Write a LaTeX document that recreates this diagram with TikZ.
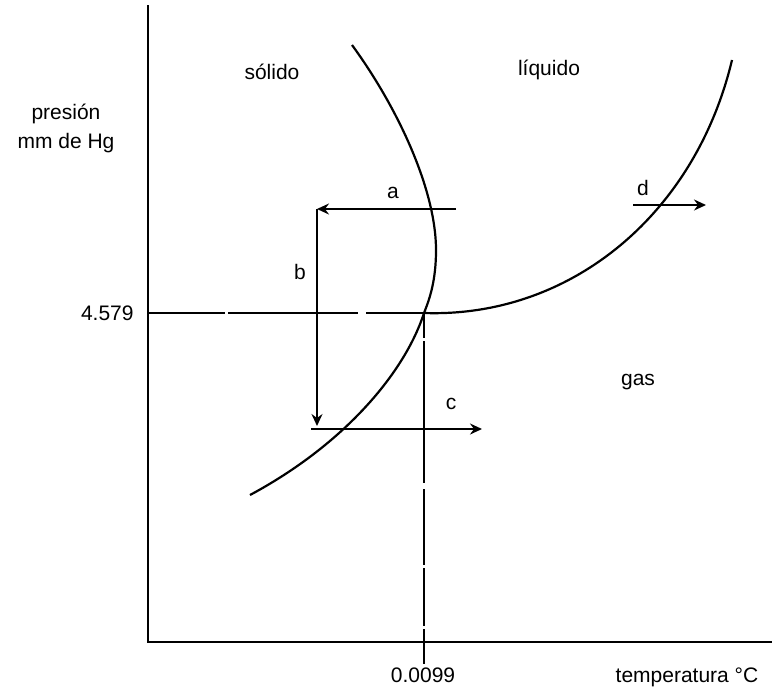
\documentclass[tikz,border=0pt]{standalone}
\usepackage{fontspec}
\setmainfont{Liberation Sans}
\usepackage{tikz}
\usetikzlibrary{arrows.meta}

\begin{document}
\begin{tikzpicture}[
  x=0.5pt, y=-0.5pt,
  every node/.style={font=\fontsize{10.5}{14.5}\selectfont, inner sep=0pt},
  axis/.style={line width=1pt},
  guide/.style={line width=0.9pt},
  curve/.style={line width=1.1pt},
  move/.style={line width=0.9pt, -{Stealth[length=6pt,width=5.5pt,inset=2pt]}},
  phase/.style={anchor=center}
]
\useasboundingbox (0,0) rectangle (775,691);

\coordinate (o) at (148,642);
\coordinate (ytop) at (148,5);
\coordinate (xend) at (772,642);
\coordinate (tp) at (424,313);
\coordinate (tbot) at (424,664);

\draw[axis] (ytop) -- (o) -- (xend);
\draw[guide, dash pattern=on 38.5pt off 1.5pt on 65pt off 4pt on 40pt] (o |- tp) -- (tp);
\draw[guide, dash pattern=on 12.5pt off 1.5pt on 71pt off 3pt on 38pt off 1.5pt on 29pt off 1.5pt on 40pt] (tp) -- (tbot);

\draw[curve] (352,45) .. controls (398,108) and (436,190) .. (436,250)
  .. controls (436,280) and (430,298) .. (tp)
  .. controls (405,372) and (345,444) .. (250,495);
\draw[curve] (tp) .. controls (570,318) and (695,215) .. (732,60);

\coordinate (a0) at (456,209);
\coordinate (a1) at (317,209);
\coordinate (b1) at (317,426);
\coordinate (c0) at (311,429);
\coordinate (c1) at (482,429);
\coordinate (d0) at (633,205);
\coordinate (d1) at (706,205);

\draw[move] (a0) -- (a1);
\draw[line width=0.9pt] (a1) -- ++(0,2);
\draw[move] (a1) -- (b1);
\draw[move] (c0) -- (c1);
\draw[move] (d0) -- (d1);

\node[phase] (solido) at (272,72) {sólido};
\node[phase] (liquido) at (549,70) {líquido};
\node[phase] (gas) at (638,382) {gas};
\node[align=center] (presion) at (66,128) {presión\\mm de Hg};
\node[anchor=east] (p3) at (134,313) {4.579};
\node (t3) at (423,675) {0.0099};
\node (temp) at (687,677) {temperatura °C};
\node (la) at (393,193) {a};
\node (lb) at (300,272) {b};
\node (lc) at (451,404) {c};
\node (ld) at (643,188) {d};
\end{tikzpicture}
\end{document}
